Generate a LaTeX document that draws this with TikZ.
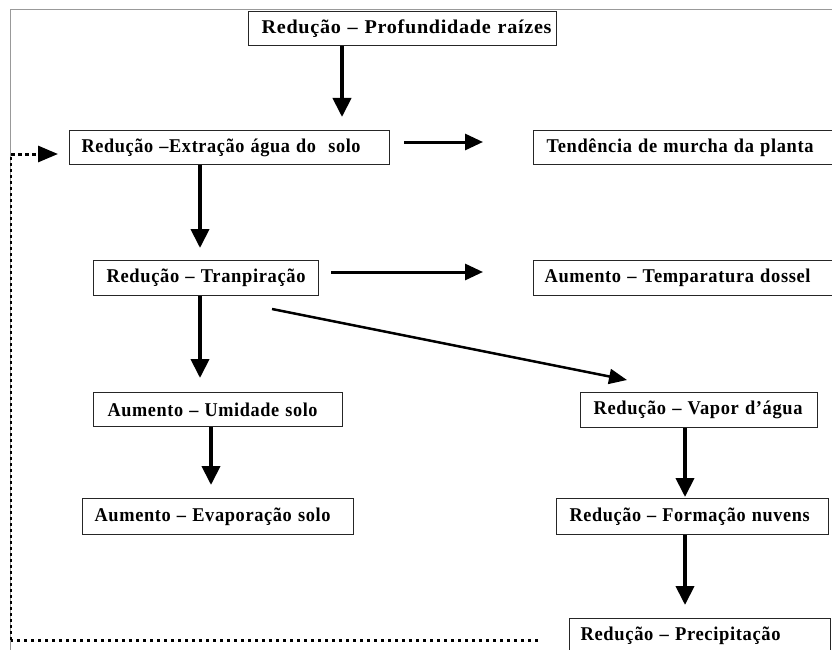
\documentclass[tikz,border=0pt]{standalone}
\usepackage{fontspec}
\usepackage{graphicx}
\setmainfont{Liberation Serif}[LetterSpace=3.5]
\usetikzlibrary{arrows.meta,calc}
\newcommand{\fitw}[2]{\resizebox{#1}{\height}{#2}}
\tikzset{
  box/.style={draw=black!85, line width=1.2pt, anchor=north west, inner xsep=13pt, inner ysep=0pt,
    align=left, minimum height=34pt, font=\fontsize{19.5}{22}\selectfont\bfseries},
  bigarrow/.style={line width=4pt, -{Triangle[length=19pt,width=18pt]}},
  harrow/.style={line width=3pt, -{Triangle[length=18pt,width=16pt]}},
  darrow/.style={line width=2.5pt, -{Triangle[length=18pt,width=15pt]}},
  dotline/.style={line width=3pt, dash pattern=on 3.5pt off 3.5pt},
  frame/.style={draw=black!40, line width=1pt}
}
\begin{document}
\begin{tikzpicture}[x=1pt,y=-1pt]
\useasboundingbox (0,0) rectangle (832,650);
\clip (0,0) rectangle (832,650);
\draw[frame] (10,660) -- (10,10) -- (840,10);
% boxes
\node[box, text width=282pt] (b1) at (248,11) {\fitw{290pt}{Redução – Profundidade raízes}};
\node[box, text width=296pt, inner xsep=12pt] (b2) at (69,130) {\fitw{279pt}{Redução –Extração água do~~solo}};
\node[box, text width=286pt] (b3) at (533,130) {\fitw{267pt}{Tendência de murcha da planta}};
\node[box, text width=199pt, minimum height=35pt] (b4) at (93,260) {\fitw{199pt}{Redução – Tranpiração}};
\node[box, text width=288pt, minimum height=35pt, inner xsep=11pt] (b5) at (533,260) {\fitw{266pt}{Aumento – Temparatura dossel}};
\node[box, text width=221pt, inner xsep=14pt] (b6) at (93,392) {\fitw{210pt}{Aumento – Umidade solo}};
\node[box, text width=211pt, minimum height=35pt] (b7) at (580,392) {\fitw{209pt}{Redução – Vapor d’água}};
\node[box, text width=247pt, minimum height=36pt, inner xsep=12pt] (b8) at (82,498) {\fitw{236pt}{Aumento – Evaporação solo}};
\node[box, text width=246pt, minimum height=36pt] (b9) at (556,498) {\fitw{240pt}{Redução – Formação nuvens}};
\node[box, text width=239pt, minimum height=34pt, inner xsep=11pt] (b10) at (569,618) {\fitw{200pt}{Redução – Precipitação}};
% arrows
\draw[bigarrow, shorten >=13pt] (342,0 |- b1.south) -- (342,0 |- b2.north);
\draw[harrow, shorten <=14pt, shorten >=50pt] (b2.east |- 0,142) -- (b3.west |- 0,142);
\draw[bigarrow, shorten >=12pt] (200,0 |- b2.south) -- (200,0 |- b4.north);
\draw[harrow, shorten <=12pt, shorten >=50pt] (b4.east |- 0,272) -- (b5.west |- 0,272);
\draw[bigarrow, shorten >=14pt] (200,0 |- b4.south) -- (200,0 |- b6.north);
\coordinate (d1) at (272,309);
\coordinate (d2) at (627,380);
\draw[darrow] (d1) -- (d2);
\draw[bigarrow, shorten >=13pt] (211,0 |- b6.south) -- (211,0 |- b8.north);
\draw[bigarrow, shorten >=1pt] (685,0 |- b7.south) -- (685,0 |- b9.north);
\draw[bigarrow, shorten >=13pt] (685,0 |- b9.south) -- (685,0 |- b10.north);
% feedback dotted
\coordinate (f1) at (538,640);
\coordinate (f2) at (11,640);
\coordinate (f3) at (11,154);
\draw[dotline] (f1) -- (f2);
\draw[line width=2pt, dash pattern=on 3pt off 3pt] (f2) -- (f3);
\draw[dotline, -{Triangle[length=20pt,width=16pt]}, shorten >=11pt] (f3) -- (b2.west |- f3);
\end{tikzpicture}
\end{document}
